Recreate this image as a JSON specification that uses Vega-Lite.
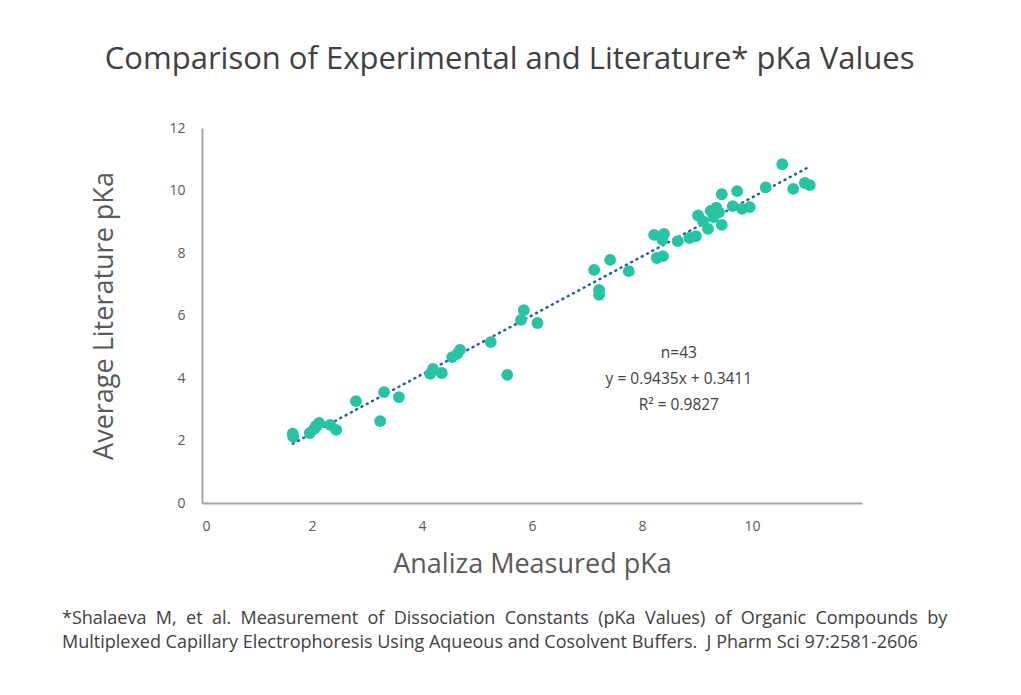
{
  "$schema": "https://vega.github.io/schema/vega-lite/v6.json",
  "padding": {"left": 62, "top": 44, "right": 5, "bottom": 5},
  "background": "white",
  "title": {
    "text": "Comparison of Experimental and Literature* pKa Values",
    "font": "Open Sans",
    "fontSize": 31,
    "fontWeight": "normal",
    "color": "#404040",
    "anchor": "middle",
    "dx": 5,
    "offset": 45
  },
  "datasets": {
    "points": [
      {"measured": 1.65, "literature": 2.22},
      {"measured": 1.66, "literature": 2.12},
      {"measured": 1.96, "literature": 2.24},
      {"measured": 2.04, "literature": 2.37},
      {"measured": 2.07, "literature": 2.46},
      {"measured": 2.13, "literature": 2.56},
      {"measured": 2.33, "literature": 2.5},
      {"measured": 2.44, "literature": 2.34},
      {"measured": 2.8, "literature": 3.26},
      {"measured": 3.24, "literature": 2.62},
      {"measured": 3.31, "literature": 3.55},
      {"measured": 3.58, "literature": 3.39},
      {"measured": 4.15, "literature": 4.13},
      {"measured": 4.2, "literature": 4.29},
      {"measured": 4.36, "literature": 4.16},
      {"measured": 4.55, "literature": 4.67},
      {"measured": 4.64, "literature": 4.77},
      {"measured": 4.69, "literature": 4.9},
      {"measured": 5.25, "literature": 5.15},
      {"measured": 5.55, "literature": 4.1},
      {"measured": 5.8, "literature": 5.86},
      {"measured": 5.85, "literature": 6.17},
      {"measured": 6.1, "literature": 5.76},
      {"measured": 7.13, "literature": 7.46},
      {"measured": 7.22, "literature": 6.82},
      {"measured": 7.22, "literature": 6.66},
      {"measured": 7.42, "literature": 7.78},
      {"measured": 7.76, "literature": 7.42},
      {"measured": 8.22, "literature": 8.58},
      {"measured": 8.4, "literature": 8.61},
      {"measured": 8.37, "literature": 8.42},
      {"measured": 8.27, "literature": 7.84},
      {"measured": 8.38, "literature": 7.9},
      {"measured": 8.65, "literature": 8.38},
      {"measured": 8.86, "literature": 8.48},
      {"measured": 8.98, "literature": 8.54},
      {"measured": 9.02, "literature": 9.2},
      {"measured": 9.11, "literature": 9.02},
      {"measured": 9.2, "literature": 8.77},
      {"measured": 9.25, "literature": 9.35},
      {"measured": 9.35, "literature": 9.45},
      {"measured": 9.4, "literature": 9.3},
      {"measured": 9.3, "literature": 9.15},
      {"measured": 9.45, "literature": 9.88},
      {"measured": 9.45, "literature": 8.9},
      {"measured": 9.65, "literature": 9.5},
      {"measured": 9.73, "literature": 9.98},
      {"measured": 9.82, "literature": 9.41},
      {"measured": 9.96, "literature": 9.47},
      {"measured": 10.25, "literature": 10.1},
      {"measured": 10.55, "literature": 10.84},
      {"measured": 10.75, "literature": 10.05},
      {"measured": 10.96, "literature": 10.24},
      {"measured": 11.05, "literature": 10.17}
    ],
    "trend": [
      {"measured": 1.65, "literature": 1.898},
      {"measured": 11.0, "literature": 10.72}
    ],
    "note": [
      {"measured": 8.67, "literature": 4.8, "label": "n=43\ny = 0.9435x + 0.3411\nR² = 0.9827"}
    ]
  },
  "vconcat": [
    {
      "width": 660,
      "height": 375,
      "title": {
        "text": [
          "*Shalaeva \u00a0M, \u00a0et \u00a0al. \u00a0Measurement \u00a0of \u00a0Dissociation \u00a0Constants \u00a0(pKa \u00a0Values) \u00a0of \u00a0Organic \u00a0Compounds \u00a0by",
          "Multiplexed Capillary Electrophoresis Using Aqueous and Cosolvent Buffers. \u00a0J Pharm Sci 97:2581-2606"
        ],
        "orient": "bottom",
        "anchor": "start",
        "frame": "group",
        "dx": -140,
        "offset": 33,
        "font": "Open Sans",
        "fontSize": 18,
        "letterSpacing": 0.5,
        "fontWeight": "normal",
        "lineHeight": 24,
        "color": "#404040"
      },
      "layer": [
        {
          "data": {"name": "trend"},
          "mark": {"type": "line", "color": "#1F5FAF", "strokeWidth": 2.5, "strokeDash": [1, 5], "strokeCap": "round"},
          "encoding": {
            "x": {"field": "measured", "type": "quantitative"},
            "y": {"field": "literature", "type": "quantitative"}
          }
        },
        {
          "data": {"name": "points"},
          "mark": {"type": "circle", "size": 140, "color": "#27C3A3", "opacity": 1},
          "encoding": {
            "x": {
              "field": "measured",
              "type": "quantitative",
              "scale": {"domain": [0, 12], "nice": false},
              "axis": {
                "title": "Analiza Measured pKa",
                "values": [0, 2, 4, 6, 8, 10],
                "format": "d",
                "grid": false,
                "ticks": false,
                "labelPadding": 16,
                "labelFont": "Open Sans",
                "labelFontSize": 14,
                "labelColor": "#595959",
                "domainColor": "#A6A6A6",
                "domainWidth": 2,
                "titleFont": "Open Sans",
                "titleFontSize": 27,
                "titleFontWeight": "normal",
                "titleColor": "#595959",
                "titlePadding": 18
              }
            },
            "y": {
              "field": "literature",
              "type": "quantitative",
              "scale": {"domain": [0, 12], "nice": false},
              "axis": {
                "title": "Average Literature pKa",
                "values": [0, 2, 4, 6, 8, 10, 12],
                "format": "d",
                "grid": false,
                "ticks": false,
                "labelPadding": 17,
                "labelFont": "Open Sans",
                "labelFontSize": 14,
                "labelColor": "#595959",
                "domainColor": "#A6A6A6",
                "domainWidth": 2,
                "titleFont": "Open Sans",
                "titleFontSize": 27,
                "titleFontWeight": "normal",
                "titleColor": "#595959",
                "titlePadding": 50
              }
            }
          }
        },
        {
          "data": {"name": "note"},
          "mark": {"type": "text", "font": "Open Sans", "fontSize": 15.5, "color": "#404040", "lineHeight": 26, "lineBreak": "\n", "align": "center", "baseline": "middle"},
          "encoding": {
            "x": {"field": "measured", "type": "quantitative"},
            "y": {"field": "literature", "type": "quantitative"},
            "text": {"field": "label"}
          }
        }
      ]
    }
  ],
  "config": {"view": {"stroke": null}, "concat": {"spacing": 0}}
}
